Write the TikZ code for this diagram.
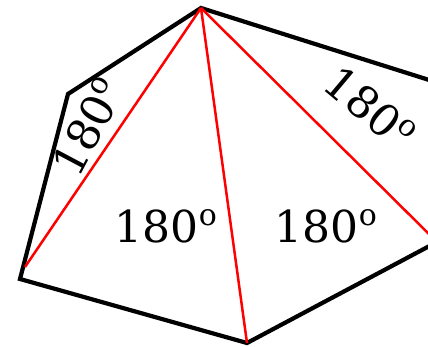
\documentclass[tikz,border=0pt]{standalone}
\usepackage{fontspec}
\setmainfont{DejaVu Serif}
\newcommand{\dego}{\raisebox{0.38em}{\fontsize{30}{30}\selectfont o}}
\begin{document}
\begin{tikzpicture}[x=1pt,y=-1pt,
  edge/.style={draw=black,line width=4.2pt,line join=miter},
  diag/.style={draw=red,line width=2.5pt},
  lab/.style={font=\fontsize{44}{44}\selectfont,inner sep=0pt}]
\useasboundingbox (0,0) rectangle (428,347);
\clip (0,0) rectangle (428,347);
\coordinate (T) at (201,8);
\coordinate (UL) at (68,94);
\coordinate (L) at (20,279);
\coordinate (B) at (247,343);
\coordinate (R) at (437,242);
\coordinate (TR) at (445,85);
\coordinate (LE) at (25,267);
\draw[edge] (T) -- (UL) -- (L) -- (B) -- (R) -- (TR) -- cycle;
\draw[diag] (T) -- (LE);
\draw[diag] (T) -- (B);
\draw[diag] (T) -- (R);
\node[lab] (m1) at (166,226) {180\dego};
\node[lab] (m2) at (326,226) {180\dego};
\node[lab,rotate=-40] (r1) at (370,108) {180\dego};
\node[lab,rotate=62] (l1) at (88,127) {180\dego};
\end{tikzpicture}
\end{document}
